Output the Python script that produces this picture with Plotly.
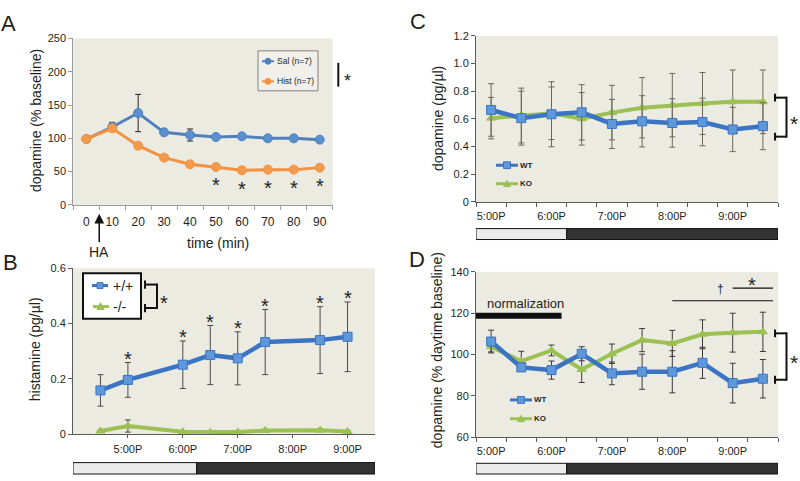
import plotly.graph_objects as go

W, H = 800, 481


def PX(x):
    return x / W


def PY(y):
    return 1 - y / H


def hours(t):
    h, m = t.split(":")
    return int(h) + int(m) / 60


# ---------------- data ----------------
# Panel A: dopamine (% baseline) vs time (min)
a_time = [0, 10, 20, 30, 40, 50, 60, 70, 80, 90]
a_sal = [99, 117, 138, 109, 105, 102, 103, 100, 100, 98]
a_sal_err = [3, 7, 28, 4, 9, 4, 3, 4, 4, 3]
a_hist = [99, 115, 89, 71, 61, 57, 52, 53, 53, 56]
a_hist_err = [2, 3, 2, 2, 2, 2, 2, 2, 2, 2]
a_sig_time = [50, 60, 70, 80, 90]

# Panel B: histamine (pg/ul) vs clock time
b_time = ["16:30", "17:00", "18:00", "18:30", "19:00", "19:30", "20:30", "21:00"]
b_wt = [0.158, 0.196, 0.251, 0.286, 0.274, 0.333, 0.340, 0.352]
b_wt_err = [0.057, 0.063, 0.086, 0.107, 0.096, 0.118, 0.121, 0.126]
b_ko = [0.011, 0.029, 0.008, 0.006, 0.007, 0.013, 0.014, 0.009]
b_ko_err = [0.004, 0.022, 0.004, 0.004, 0.004, 0.004, 0.005, 0.004]
b_sig = [False, True, True, True, True, True, True, True]

# Panels C and D
cd_time = ["17:00", "17:30", "18:00", "18:30", "19:00", "19:30", "20:00", "20:30", "21:00", "21:30"]
c_wt = [0.665, 0.606, 0.634, 0.648, 0.564, 0.583, 0.571, 0.578, 0.524, 0.548]
c_wt_err = [0.19, 0.195, 0.235, 0.20, 0.177, 0.185, 0.175, 0.172, 0.16, 0.17]
c_ko = [0.606, 0.625, 0.641, 0.601, 0.646, 0.681, 0.700, 0.712, 0.724, 0.724]
c_ko_err = [0.15, 0.198, 0.19, 0.19, 0.197, 0.218, 0.229, 0.224, 0.23, 0.23]

d_wt = [106.3, 93.8, 92.5, 100.4, 90.9, 91.7, 91.7, 96.0, 86.2, 88.3]
d_wt_err = [5.5, 2.0, 4.4, 3.4, 5.5, 8.5, 10.2, 7.5, 9.6, 9.3]
d_ko = [103.8, 96.8, 102.0, 92.8, 100.4, 107.0, 105.4, 109.8, 110.6, 111.0]
d_ko_err = [2.5, 4.8, 2.6, 6.3, 4.7, 5.6, 6.3, 7.0, 9.4, 9.5]

clock_ticks = ["17:00", "18:00", "19:00", "20:00", "21:00"]
clock_labels = ["5:00P", "6:00P", "7:00P", "8:00P", "9:00P"]
lights_off = "18:15"
norm_end = "18:10"
norm_level = 118.8
d_sig_long = ["20:00", "21:40"]
d_sig_short = ["21:00", "21:40"]

# ---------------- style ----------------
FONT = "Liberation Sans"
TXT = "#231F20"
BG = "#ECEBE2"
BLUE_A = "#4F81BD"
ORANGE = "#F2913F"
BLUE = "#3A74C2"
BLUE_MK = "#5F98DA"
GREEN = "#9BC153"
ERR_B = "#4a4a4a"
ERR_C = "#6E6858"
AX_A = "#9a9a9a"
AX = "#5a5a5a"
STAR = 20
STAR_SHIFT = -5

fig = go.Figure()


def series(x, y, err, xa, ya, color, mcolor, symbol, msize, lw, ecolor):
    fig.add_trace(go.Scatter(
        x=x, y=y, xaxis=xa, yaxis=ya, mode="lines+markers",
        line=dict(color=color, width=lw),
        marker=dict(symbol=symbol, size=msize, color=mcolor,
                    line=dict(color=color, width=1)),
        error_y=dict(type="data", array=err, visible=True, color=ecolor,
                     thickness=1, width=3),
        showlegend=False, hoverinfo="skip"))


# A
series(a_time, a_sal, a_sal_err, "x", "y", BLUE_A, "#5B8FCF", "circle", 9, 3, "#222222")
series(a_time, a_hist, a_hist_err, "x", "y", ORANGE, "#F39A4C", "circle", 9, 3, "#222222")
# B
bx = [hours(t) for t in b_time]
series(bx, b_ko, b_ko_err, "x2", "y2", GREEN, GREEN, "triangle-up", 8, 4, ERR_B)
series(bx, b_wt, b_wt_err, "x2", "y2", BLUE, BLUE_MK, "square", 9, 4.5, ERR_B)
# C
cx = [hours(t) for t in cd_time]
series(cx, c_ko, c_ko_err, "x3", "y3", GREEN, GREEN, "triangle-up", 8, 4, ERR_C)
series(cx, c_wt, c_wt_err, "x3", "y3", BLUE, BLUE_MK, "square", 9, 4.5, ERR_C)
# D
series(cx, d_ko, d_ko_err, "x4", "y4", GREEN, GREEN, "triangle-up", 8, 4, "#3a3a3a")
series(cx, d_wt, d_wt_err, "x4", "y4", BLUE, BLUE_MK, "square", 9, 4.5, "#3a3a3a")

shapes = []
annotations = []


def seg(x0, y0, x1, y1, w=1.5, color="#111111"):
    shapes.append(dict(type="line", xref="paper", yref="paper",
                       x0=PX(x0), y0=PY(y0), x1=PX(x1), y1=PY(y1),
                       line=dict(color=color, width=w)))


def rect(x0, y0, x1, y1, fill, lc="#111111", lw=1):
    shapes.append(dict(type="rect", xref="paper", yref="paper",
                       x0=PX(x0), y0=PY(y0), x1=PX(x1), y1=PY(y1),
                       fillcolor=fill, line=dict(color=lc, width=lw)))


def txt(x, y, text, size, xanchor="center", angle=0, color=TXT, yshift=0, family=FONT):
    annotations.append(dict(xref="paper", yref="paper", x=PX(x), y=PY(y),
                            text=text, showarrow=False, xanchor=xanchor,
                            yanchor="middle", textangle=angle, yshift=yshift,
                            font=dict(family=family, size=size, color=color)))


def star(xref, yref, x, y, size=STAR):
    annotations.append(dict(xref=xref, yref=yref, x=x, y=y, text="*",
                            showarrow=False, yshift=STAR_SHIFT,
                            font=dict(family=FONT, size=size, color=TXT)))


# ---- Panel letters
txt(8, 18, "A", 22)
txt(10, 263, "B", 22)
txt(418, 16, "C", 22)
txt(417, 260, "D", 22)

# ---- axis titles
txt(36, 118, "dopamine (% baseline)", 14, angle=-90)
txt(35, 352, "histamine (pg/µl)", 14, angle=-90)
txt(438, 116, "dopamine (pg/µl)", 14, angle=-90)
txt(437, 353, "dopamine (% daytime baseline)", 14, angle=-90)
txt(218, 243, "time (min)", 14)

# ---- HA arrow
annotations.append(dict(xref="x", yref="paper", x=5, y=PY(213), ax=0, ay=38,
                        text="HA", showarrow=True, arrowhead=2, arrowsize=1.3,
                        arrowwidth=1.5, arrowcolor="#111111",
                        font=dict(family=FONT, size=14, color=TXT)))

# ---- A legend
rect(258, 46, 318, 87, "#F1F0EA", lc="#808080", lw=1)
for yy, col, lab in [(56.7, BLUE_A, "Sal (n=7)"), (77.3, ORANGE, "Hist (n=7)")]:
    seg(262, yy, 274, yy, 2, col)
    shapes.append(dict(type="circle", xref="paper", yref="paper",
                       x0=PX(265), x1=PX(271), y0=PY(yy + 3), y1=PY(yy - 3),
                       fillcolor=col, line=dict(color=col, width=1)))
    txt(275, yy, lab, 8.5, xanchor="left")
# A bracket
seg(338.3, 58.3, 338.3, 82.7, 2)
txt(347, 71.7, "*", 18, yshift=-5)
# A asterisks
for t in a_sig_time:
    star("x", "y", t, a_hist[a_time.index(t)] - 20)

# ---- B legend
rect(83, 274, 141, 320.7, "#FFFFFF", lc="#111111", lw=2)
seg(92, 286.7, 108, 286.7, 3, BLUE)
shapes.append(dict(type="rect", xref="paper", yref="paper",
                   x0=PX(97), x1=PX(103), y0=PY(289.7), y1=PY(283.7),
                   fillcolor=BLUE_MK, line=dict(color=BLUE, width=1)))
txt(111, 286.7, "+/+", 14, xanchor="left")
seg(93, 308.3, 109, 308.3, 3, GREEN)
shapes.append(dict(type="path", xref="paper", yref="paper",
                   path="M %f,%f L %f,%f L %f,%f Z" % (PX(97), PY(311.3), PX(104), PY(311.3), PX(100.5), PY(304.3)),
                   fillcolor=GREEN, line=dict(color=GREEN, width=1)))
txt(111, 308.3, "-/-", 14, xanchor="left")
# B bracket
seg(145, 281.5, 145, 290, 2)
seg(145, 305.5, 145, 314, 2)
seg(145, 285.7, 157, 285.7, 2)
seg(145, 309.7, 157, 309.7, 2)
seg(157, 284.7, 157, 310.7, 2)
txt(164, 299, "*", 20, yshift=-5)
# B asterisks
for t, v, e, s in zip(b_time, b_wt, b_wt_err, b_sig):
    if s:
        star("x2", "y2", hours(t), v + e + 0.032)

# ---- C/D legends
for (yw, yk, x0, x1) in [(163.3, 182.3, 496, 518), (404, 423.3, 510, 532)]:
    xm = (x0 + x1) / 2
    seg(x0, yw, x1, yw, 3, BLUE)
    shapes.append(dict(type="rect", xref="paper", yref="paper",
                       x0=PX(xm - 3.5), x1=PX(xm + 3.5), y0=PY(yw + 3.5), y1=PY(yw - 3.5),
                       fillcolor=BLUE_MK, line=dict(color=BLUE, width=1)))
    txt(x1, yw, "<b>WT</b>", 8, xanchor="left")
    seg(x0, yk, x1, yk, 3, GREEN)
    shapes.append(dict(type="path", xref="paper", yref="paper",
                       path="M %f,%f L %f,%f L %f,%f Z" % (PX(xm - 3.5), PY(yk + 3), PX(xm + 3.5), PY(yk + 3), PX(xm), PY(yk - 3.5)),
                       fillcolor=GREEN, line=dict(color=GREEN, width=1)))
    txt(x1, yk, "<b>KO</b>", 8, xanchor="left")

# C bracket
seg(775, 90, 775, 98, 2)
seg(775, 130, 775, 138, 2)
seg(775, 94, 786.5, 94, 2)
seg(775, 134, 786.5, 134, 2)
seg(786.5, 93, 786.5, 135, 2)
txt(794, 115, "*", 21, yshift=-5)
# D bracket
seg(775, 331.7, 775, 339.7, 2)
seg(775, 379.3, 775, 387.3, 2)
seg(775, 335.7, 786.5, 335.7, 2)
seg(775, 383.3, 786.5, 383.3, 2)
seg(786.5, 334.7, 786.5, 384.3, 2)
txt(794, 360, "*", 21, yshift=-5)

# D normalization bar and significance lines
shapes.append(dict(type="line", xref="x4", yref="y4", x0=16.75, x1=hours(norm_end),
                   y0=norm_level, y1=norm_level, line=dict(color="#111111", width=6)))
txt(525, 305, "normalization", 13)
shapes.append(dict(type="line", xref="x4", yref="paper",
                   x0=hours(d_sig_long[0]), x1=hours(d_sig_long[1]),
                   y0=PY(302.3), y1=PY(302.3), line=dict(color="#111111", width=1.2)))
shapes.append(dict(type="line", xref="x4", yref="paper",
                   x0=hours(d_sig_short[0]), x1=hours(d_sig_short[1]),
                   y0=PY(289.3), y1=PY(289.3), line=dict(color="#111111", width=1.2)))
txt(720.7, 290.5, "†", 12)
txt(751.7, 281, "*", 20, yshift=-5)


# ---- light/dark bars
def lightbar(xref, xs, xe, y0, y1):
    shapes.append(dict(type="rect", xref=xref, yref="paper", x0=xs, x1=hours(lights_off),
                       y0=PY(y1), y1=PY(y0), fillcolor="#EBEBEB",
                       line=dict(color="#111111", width=1)))
    shapes.append(dict(type="rect", xref=xref, yref="paper", x0=hours(lights_off), x1=xe,
                       y0=PY(y1), y1=PY(y0), fillcolor="#333333",
                       line=dict(color="#111111", width=1)))


lightbar("x2", 16.0, 21.5, 468.3, 480)
lightbar("x3", 16.75, 21.75, 228.3, 239.5)
lightbar("x4", 16.75, 21.75, 469, 480)

# ---------------- axes ----------------
tf = dict(family=FONT, size=11, color=TXT)
base = dict(showgrid=False, zeroline=False, showline=True, linewidth=1, tickfont=tf)

xa = dict(base, domain=[PX(73.3), PX(332.7)], range=[-5, 95], anchor="y",
          tickmode="array", tickvals=a_time, ticktext=[str(t) for t in a_time],
          ticks="", ticklabelstandoff=6, linecolor=AX_A,
          tickfont=dict(family=FONT, size=12, color=TXT),
          minor=dict(tick0=-5, dtick=10, ticks="outside", ticklen=4, tickcolor=AX_A))
ya = dict(base, domain=[PY(204), PY(33.3)], range=[0, 250], anchor="x",
          tickmode="array", tickvals=[0, 50, 100, 150, 200, 250],
          ticks="outside", ticklen=4, tickcolor=AX_A, linecolor=AX_A)

clock_x = [hours(t) for t in clock_ticks]
xb = dict(base, domain=[PX(73), PX(375)], range=[16, 21.5], anchor="y2",
          tickmode="array", tickvals=clock_x, ticktext=clock_labels,
          ticks="outside", ticklen=3, tickcolor=AX, linecolor=AX, ticklabelstandoff=2)
yb = dict(base, domain=[PY(439), PY(269)], range=[0, 0.6], anchor="x2",
          tickmode="array", tickvals=[0, 0.2, 0.4, 0.6], ticktext=["0", "0.2", "0.4", "0.6"],
          ticks="outside", ticklen=4, tickcolor=AX, linecolor=AX)

xc = dict(base, domain=[PX(476), PX(778)], range=[16.75, 21.75], anchor="y3",
          tickmode="array", tickvals=clock_x, ticktext=clock_labels,
          ticks="", ticklabelstandoff=4, linecolor=AX,
          minor=dict(tick0=16.75, dtick=0.5, ticks="outside", ticklen=4, tickcolor=AX))
yc = dict(base, domain=[PY(201), PY(30.7)], range=[0, 1.2], anchor="x3",
          tickmode="array", tickvals=[0, 0.2, 0.4, 0.6, 0.8, 1.0, 1.2],
          ticktext=["0", "0.2", "0.4", "0.6", "0.8", "1.0", "1.2"],
          ticks="outside", ticklen=4, tickcolor=AX, linecolor=AX)
xd = dict(xc, anchor="y4")
yd = dict(base, domain=[PY(442.3), PY(272.7)], range=[60, 140], anchor="x4",
          tickmode="array", tickvals=[60, 80, 100, 120, 140],
          ticks="outside", ticklen=4, tickcolor=AX, linecolor=AX)

fig.update_layout(
    width=W, height=H, margin=dict(l=0, r=0, t=0, b=0),
    paper_bgcolor="white", plot_bgcolor=BG,
    font=dict(family=FONT, color=TXT),
    xaxis=xa, yaxis=ya, xaxis2=xb, yaxis2=yb,
    xaxis3=xc, yaxis3=yc, xaxis4=xd, yaxis4=yd,
    shapes=shapes, annotations=annotations, showlegend=False,
)

fig.write_html("out.html", config={"displayModeBar": False},
               post_script="document.body.style.margin='0';")
